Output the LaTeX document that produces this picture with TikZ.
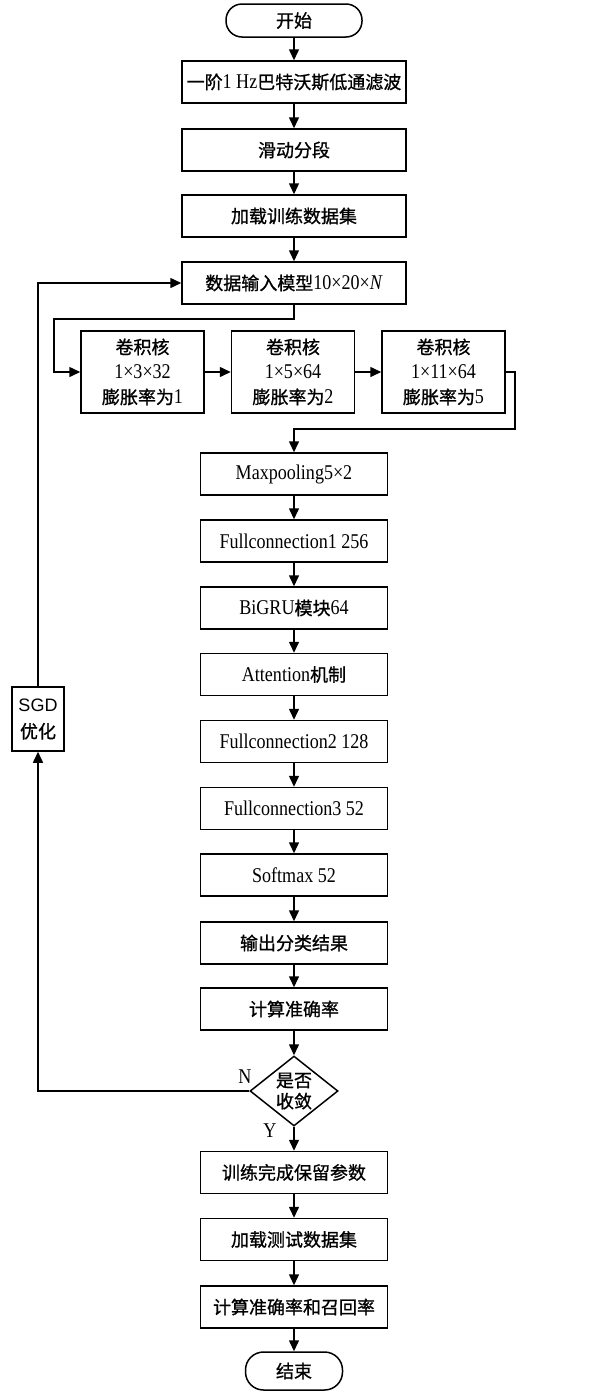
\documentclass[tikz,border=0pt]{standalone}
\usepackage{fontspec}
\setmainfont{Liberation Serif}[FakeStretch=0.86]
\newfontfamily\cjk[FakeBold=1,Scale=0.857]{Noto Sans CJK SC}
\newfontfamily\sgdfont{Liberation Sans}
\usetikzlibrary{shapes.geometric,arrows.meta}
\newcommand\zh[1]{{\cjk #1}}
\begin{document}
\begin{tikzpicture}[x=1pt,y=-1pt, line width=1.5pt,
  box/.style={draw, rectangle, minimum height=42pt, inner sep=0pt, font=\fontsize{21}{24}\selectfont},
  wide/.style={box, minimum width=224pt},
  narrow/.style={box, minimum width=187pt},
  conv/.style={box, minimum width=123pt, minimum height=82pt, align=center, font=\fontsize{21}{25}\selectfont},
  term/.style={draw, rectangle, rounded corners=16pt, inner sep=0pt, font=\fontsize{21}{24}\selectfont},
  lab/.style={inner sep=0pt, font=\fontsize{21}{24}\selectfont},
  arr/.style={-{Triangle[length=11pt,width=10pt]}}
]
\useasboundingbox (0,0) rectangle (612,1395);

\node[term, minimum width=136pt, minimum height=33pt] (start) at (294,20.5) {\zh{开始}};
\node[wide] (b1) at (294,82) {\zh{一阶}1 Hz\zh{巴特沃斯低通滤波}};
\node[wide] (b2) at (294,150) {\zh{滑动分段}};
\node[wide] (b3) at (294,216) {\zh{加载训练数据集}};
\node[wide] (b4) at (294,283) {\zh{数据输入模型}10×20×\textit{N}};

\node[conv] (c1) at (142.5,372) {\zh{卷积核}\\1×3×32\\\zh{膨胀率为}1};
\node[conv] (c2) at (293,372) {\zh{卷积核}\\1×5×64\\\zh{膨胀率为}2};
\node[conv] (c3) at (443.5,372) {\zh{卷积核}\\1×11×64\\\zh{膨胀率为}5};

\node[narrow] (mp) at (294,474) {Maxpooling5×2};
\node[narrow] (f1) at (294,541) {Fullconnection1 256};
\node[narrow] (bg) at (294,608) {BiGRU\zh{模块}64};
\node[narrow] (at) at (294,674.5) {Attention\zh{机制}};
\node[narrow] (f2) at (294,741.5) {Fullconnection2 128};
\node[narrow] (f3) at (294,808.5) {Fullconnection3 52};
\node[narrow] (sm) at (294,875) {Softmax 52};
\node[narrow] (out) at (294,943) {\zh{输出分类结果}};
\node[narrow] (acc) at (294,1009) {\zh{计算准确率}};
\node[draw, diamond, minimum width=88pt, minimum height=70pt, inner sep=-10pt, align=center,
      font=\fontsize{21}{21}\selectfont] (dia) at (294,1091) {\zh{是否}\\\zh{收敛}};
\node[narrow] (tr) at (294,1172.5) {\zh{训练完成保留参数}};
\node[narrow] (lt) at (294,1239.5) {\zh{加载测试数据集}};
\node[narrow] (cr) at (294,1307) {\zh{计算准确率和召回率}};
\node[term, minimum width=97pt, minimum height=38pt, rounded corners=18pt] (end) at (294,1371) {\zh{结束}};

\node[draw, rectangle, minimum width=52pt, minimum height=64pt, inner sep=0pt, align=center,
      font=\fontsize{21}{27}\selectfont] (sgd) at (38,719) {{\sgdfont\fontsize{18}{27}\selectfont SGD}\\\zh{优化}};

\node[lab] (nlab) at (245,1077) {N};
\node[lab] (ylab) at (270,1131) {Y};

\coordinate (k1) at (54,319);
\coordinate (k2) at (515,429);

\draw[arr] (start) -- (b1);
\draw[arr] (b1) -- (b2);
\draw[arr] (b2) -- (b3);
\draw[arr] (b3) -- (b4);
\draw[arr] (b4.south) |- (k1) |- (c1.west);
\draw[arr] (c1) -- (c2);
\draw[arr] (c2) -- (c3);
\draw[arr] (c3.east) -| (k2) -| (mp.north);
\draw[arr] (mp) -- (f1);
\draw[arr] (f1) -- (bg);
\draw[arr] (bg) -- (at);
\draw[arr] (at) -- (f2);
\draw[arr] (f2) -- (f3);
\draw[arr] (f3) -- (sm);
\draw[arr] (sm) -- (out);
\draw[arr] (out) -- (acc);
\draw[arr] (acc) -- (dia);
\draw[arr] (dia) -- (tr);
\draw[arr] (tr) -- (lt);
\draw[arr] (lt) -- (cr);
\draw[arr] (cr) -- (end);
\draw[arr] (dia.west) -| (sgd.south);
\draw[arr] (sgd.north) |- (b4.west);
\end{tikzpicture}
\end{document}
